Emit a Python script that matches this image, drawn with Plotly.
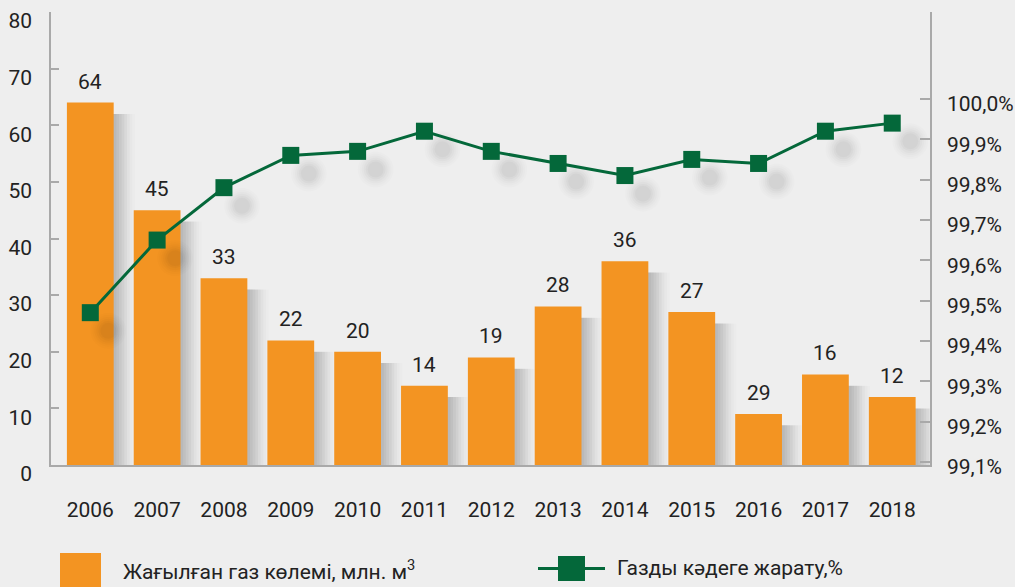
import plotly.graph_objects as go

years = ["2006", "2007", "2008", "2009", "2010", "2011", "2012",
         "2013", "2014", "2015", "2016", "2017", "2018"]
gas_volume = [64, 45, 33, 22, 20, 14, 19, 28, 36, 27, 9, 16, 12]
bar_labels = ["64", "45", "33", "22", "20", "14", "19", "28", "36", "27", "29", "16", "12"]
utilization = [99.47, 99.65, 99.78, 99.86, 99.87, 99.92, 99.87,
               99.84, 99.81, 99.85, 99.84, 99.92, 99.94]

left_ticks = [0, 10, 20, 30, 40, 50, 60, 70, 80]
right_ticks = [99.1, 99.2, 99.3, 99.4, 99.5, 99.6, 99.7, 99.8, 99.9, 100.0]
right_tick_text = ["99,1%", "99,2%", "99,3%", "99,4%", "99,5%", "99,6%",
                   "99,7%", "99,8%", "99,9%", "100,0%"]

bar_name = "Жағылған газ көлемі, млн. м<sup>3</sup>"
line_name = "Газды кәдеге жарату,%"

ORANGE = "#F39422"
GREEN = "#04683A"
BG = "#EEEEEE"
AXIS = "#A9A9A9"
TXT = "#222222"
FONT = "Roboto"
FS = 21

idx = list(range(len(years)))
fig = go.Figure()

# soft bar shadows (layered to mimic blur)
for off, op in [(0.04, 0.035), (0.08, 0.04), (0.12, 0.04), (0.16, 0.035),
                (0.20, 0.03), (0.24, 0.022), (0.28, 0.015), (0.32, 0.01)]:
    fig.add_trace(go.Bar(
        x=idx, y=[max(v - 2.0, 0) for v in gas_volume],
        width=0.7, offset=-0.35 + off,
        marker=dict(color=f"rgba(0,0,0,{op})", line=dict(width=0)),
        hoverinfo="skip", showlegend=False, yaxis="y"))

fig.add_trace(go.Bar(
    x=idx, y=gas_volume, name=bar_name,
    width=0.7, offset=-0.35,
    marker=dict(color=ORANGE, line=dict(width=0)),
    showlegend=False, yaxis="y"))

# soft line shadow
for sz, op in [(36, 0.01), (32, 0.013), (28, 0.016), (24, 0.019), (20, 0.022), (16, 0.025)]:
    fig.add_trace(go.Scatter(
        x=[i + 0.27 for i in idx], y=[u - 0.045 for u in utilization],
        mode="markers",
        marker=dict(symbol="circle", size=sz, color=f"rgba(0,0,0,{op})",
                    line=dict(width=0)),
        hoverinfo="skip", showlegend=False, yaxis="y2"))

fig.add_trace(go.Scatter(
    x=idx, y=utilization, name=line_name, mode="lines+markers",
    line=dict(color=GREEN, width=3),
    marker=dict(symbol="square", size=17, color=GREEN, line=dict(width=0)),
    showlegend=False, yaxis="y2"))

annotations = []
for i, v, t in zip(idx, gas_volume, bar_labels):
    annotations.append(dict(
        x=i, y=v, xref="x", yref="y", text=t, showarrow=False,
        yanchor="bottom", yshift=7,
        font=dict(family=FONT, size=FS, color=TXT)))

W, H = 1015, 587
L, R, T, B = 51, 85, 12, 122
pw, ph = W - L - R, H - T - B


def px(x):
    return (x - L) / pw


def py(y):
    return (H - B - y) / ph


shapes = [
    dict(type="rect", xref="paper", yref="paper",
         x0=px(60), x1=px(101), y0=py(594), y1=py(553),
         fillcolor=ORANGE, line=dict(width=0), layer="above"),
    dict(type="line", xref="paper", yref="paper",
         x0=px(538), x1=px(605), y0=py(568.5), y1=py(568.5),
         line=dict(color=GREEN, width=3)),
    dict(type="rect", xref="paper", yref="paper",
         x0=px(558), x1=px(585), y0=py(581), y1=py(556),
         fillcolor=GREEN, line=dict(width=0)),
]
annotations.append(dict(
    x=px(121), y=py(570), xref="paper", yref="paper", text=bar_name,
    showarrow=False, xanchor="left", yanchor="middle",
    font=dict(family=FONT, size=FS, color=TXT)))
annotations.append(dict(
    x=px(615), y=py(568), xref="paper", yref="paper", text=line_name,
    showarrow=False, xanchor="left", yanchor="middle",
    font=dict(family=FONT, size=FS, color=TXT)))

fig.update_layout(
    width=W, height=H,
    margin=dict(l=L, r=R, t=T, b=B, autoexpand=False),
    paper_bgcolor=BG, plot_bgcolor=BG,
    barmode="overlay",
    showlegend=False,
    font=dict(family=FONT, size=FS, color=TXT),
    xaxis=dict(
        range=[-0.588, 12.565], tickmode="array", tickvals=idx, ticktext=years,
        showgrid=False, zeroline=False, showline=True, linecolor=AXIS, linewidth=1.5,
        ticks="", ticklabelstandoff=25, automargin=False,
        tickfont=dict(family=FONT, size=FS, color=TXT)),
    yaxis=dict(
        range=[0, 80], tickmode="array", tickvals=left_ticks,
        showgrid=False, zeroline=False, showline=True, linecolor=AXIS, linewidth=1.5,
        ticks="inside", ticklen=8, tickcolor=AXIS, tickwidth=1.5,
        ticklabelstandoff=13, ticklabelshift=9, automargin=False,
        tickfont=dict(family=FONT, size=FS, color=TXT)),
    yaxis2=dict(
        range=[99.0922, 100.2156], overlaying="y", side="right",
        tickmode="array", tickvals=right_ticks, ticktext=right_tick_text,
        showgrid=False, zeroline=False, showline=True, linecolor=AXIS, linewidth=1.5,
        ticks="inside", ticklen=10, tickcolor=AXIS, tickwidth=1.5,
        ticklabelstandoff=11, ticklabelshift=5, automargin=False,
        tickfont=dict(family=FONT, size=FS, color=TXT)),
    annotations=annotations,
    shapes=shapes,
)

fig.write_html(
    "out.html",
    config={"displayModeBar": False},
    post_script="document.body.style.margin='0';document.body.style.background='#EEEEEE';",
)
